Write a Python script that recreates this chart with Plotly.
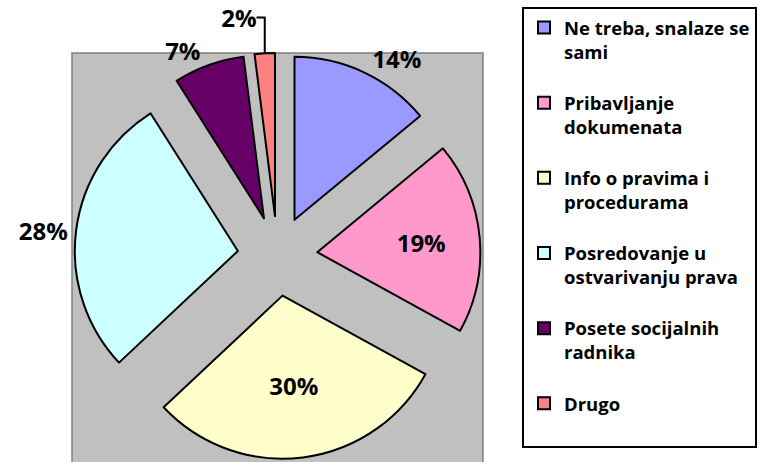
import plotly.graph_objects as go

# categories and shares (%)
labels = [
    "Ne treba, snalaze se<br>sami",
    "Pribavljanje<br>dokumenata",
    "Info o pravima i<br>procedurama",
    "Posredovanje u<br>ostvarivanju prava",
    "Posete socijalnih<br>radnika",
    "Drugo",
]
values = [14, 19, 30, 28, 7, 2]
colors = ["#9999FF", "#FF99CC", "#FFFFCC", "#CCFFFF", "#660066", "#FF8080"]

# extra empty line after each entry -> spacing like the excel legend
names = [l + "<br> " for l in labels]

FONT = "Open Sans"
W, H = 780, 462


def px(x):
    return x / W


def py(y):
    return (H - y) / H


fig = go.Figure()

fig.add_trace(go.Pie(
    labels=names,
    values=values,
    sort=False,
    direction="clockwise",
    rotation=0,
    pull=0.245,
    marker=dict(colors=colors, line=dict(color="black", width=2)),
    texttemplate="%{percent:.0%}",
    textposition=["outside", "inside", "inside", "outside", "outside", "outside"],
    textfont=dict(family=FONT, size=24, color="black", weight="bold"),
    insidetextorientation="horizontal",
    hoverinfo="label+percent",
    domain=dict(x=[px(74.5), px(480.5)], y=[py(459), py(53)]),
))

# grey "plot area" behind the pie, like excel
fig.add_shape(type="rect", xref="paper", yref="paper",
              x0=px(72), x1=px(483), y0=-0.05, y1=py(53),
              fillcolor="#C0C0C0", line=dict(color="#808080", width=1.5),
              layer="below")

fig.update_layout(
    width=W, height=H,
    margin=dict(l=0, r=0, t=0, b=0, autoexpand=False),
    paper_bgcolor="white",
    plot_bgcolor="white",
    showlegend=True,
    legend=dict(
        x=px(522), y=py(7), xanchor="left", yanchor="top",
        bgcolor="white", bordercolor="black", borderwidth=2,
        valign="top",
        font=dict(family=FONT, size=18.5, color="black", weight="bold"),
    ),
)

# no default page margin, so the figure sits at the window's corner
fig.write_html("out.html", config={"displayModeBar": False},
               post_script="document.body.style.margin = '0';")
